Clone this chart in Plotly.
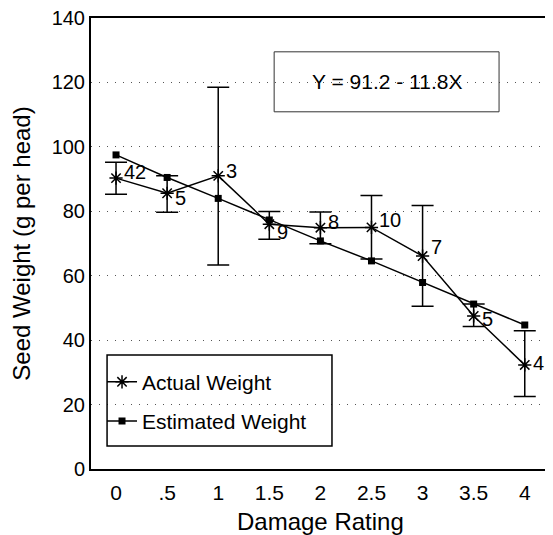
import plotly.graph_objects as go

damage = [0, 0.5, 1, 1.5, 2, 2.5, 3, 3.5, 4]
actual = [90.3, 85.6, 91.0, 76.0, 74.9, 75.0, 66.1, 47.5, 32.3]
actual_upper = [95.2, 91.0, 118.5, 79.9, 79.8, 84.9, 81.8, 51.2, 42.9]
actual_lower = [85.3, 79.7, 63.3, 71.3, 69.9, 65.2, 50.5, 44.2, 22.5]
estimated = [97.5, 90.5, 84.0, 77.3, 70.8, 64.6, 57.9, 51.2, 44.7]
n_obs = ["42", "5", "3", "9", "8", "10", "7", "5", "4"]
x_ticks = [0, 0.5, 1, 1.5, 2, 2.5, 3, 3.5, 4]
x_ticktext = ["0", ".5", "1", "1.5", "2", "2.5", "3", "3.5", "4"]
y_ticks = [0, 20, 40, 60, 80, 100, 120, 140]
equation = "Y = 91.2 - 11.8X"

label_yshift = [6, -5, 5, -8, 6, 7, 9, -3, 2]

err_plus = [u - a for u, a in zip(actual_upper, actual)]
err_minus = [a - l for a, l in zip(actual, actual_lower)]

FONT = "Liberation Sans, Arial, Helvetica, sans-serif"

fig = go.Figure()

fig.add_trace(go.Scatter(
    x=damage, y=actual, mode="lines+markers", name="Actual Weight",
    line=dict(color="black", width=1.5),
    marker=dict(symbol="asterisk-open", size=11, color="black",
                line=dict(color="black", width=1.5)),
    error_y=dict(type="data", array=err_plus, arrayminus=err_minus,
                 color="black", thickness=1.5, width=11),
    legendgroup="a",
))

fig.add_trace(go.Scatter(
    x=damage, y=estimated, mode="lines+markers", name="Estimated Weight",
    line=dict(color="black", width=1.5),
    marker=dict(symbol="square", size=7, color="black"),
    legendgroup="b",
))

annotations = [
    dict(text=equation, xref="paper", yref="paper",
         x=0.644, y=0.8585, xanchor="center", yanchor="middle", showarrow=False,
         font=dict(family=FONT, size=21, color="black")),
    dict(text="Damage Rating", xref="paper", yref="paper",
         x=0.5, y=-0.1175, xanchor="center", yanchor="middle", showarrow=False,
         font=dict(family=FONT, size=24, color="black")),
]
for xv, yv, t, ys in zip(damage, actual, n_obs, label_yshift):
    annotations.append(dict(
        text=t, x=xv, y=yv, xref="x", yref="y", showarrow=False,
        xanchor="left", yanchor="middle", xshift=6, yshift=ys,
        font=dict(family=FONT, size=20, color="black")))

# page body has an 8px default margin, so the figure is drawn 8px smaller
fig.update_layout(
    width=545, height=527,
    margin=dict(l=83, r=3, t=10, b=66, autoexpand=False),
    paper_bgcolor="white", plot_bgcolor="white",
    font=dict(family=FONT, color="black"),
    showlegend=True,
    legend=dict(x=0.024, y=0.238, xanchor="left", yanchor="top",
                bgcolor="rgba(0,0,0,0)", borderwidth=0,
                font=dict(family=FONT, size=21, color="black"),
                tracegroupgap=9),
    shapes=[
        dict(type="rect", xref="paper", yref="paper",
             x0=0.035, x1=0.525, y0=0.051, y1=0.253,
             line=dict(color="black", width=1.5)),
        dict(type="rect", xref="paper", yref="paper",
             x0=0.399, x1=0.889, y0=0.792, y1=0.925,
             line=dict(color="#333", width=1)),
    ],
    annotations=annotations,
)

fig.update_xaxes(
    range=[-0.245, 4.247], tickvals=x_ticks, ticktext=x_ticktext,
    showgrid=False, zeroline=False, automargin=False,
    showline=True, linecolor="black", linewidth=2, mirror=True,
    ticks="outside", ticklen=4, tickcolor="rgba(0,0,0,0)",
    ticklabeloverflow="allow",
    tickfont=dict(family=FONT, size=21, color="black"),
)

fig.update_yaxes(
    range=[0, 140], tickvals=y_ticks,
    showgrid=True, gridcolor="#555", griddash="1px,7px", gridwidth=1,
    zeroline=False, automargin=False,
    showline=True, linecolor="black", linewidth=2, mirror=True,
    ticks="", ticklabeloverflow="allow",
    tickfont=dict(family=FONT, size=20, color="black"),
    title=dict(text="Seed Weight (g per head)", standoff=20,
               font=dict(family=FONT, size=24, color="black")),
)

fig.write_html("out.html")
